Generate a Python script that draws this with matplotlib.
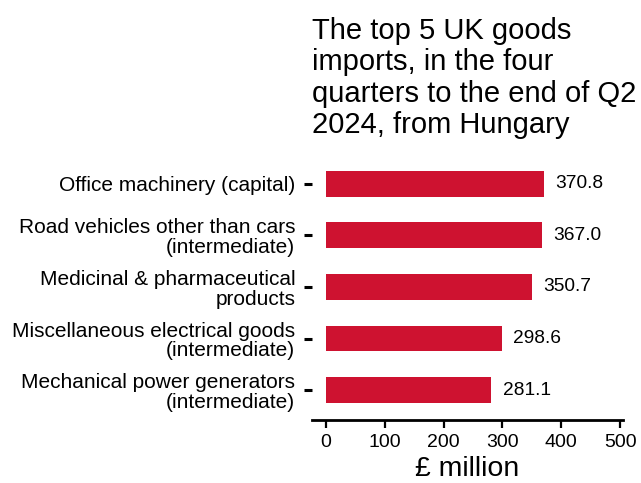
import matplotlib.pyplot as plt

categories = ['Office machinery (capital)',
              'Road vehicles other than cars\n(intermediate)',
              'Medicinal & pharmaceutical\nproducts',
              'Miscellaneous electrical goods\n(intermediate)',
              'Mechanical power generators\n(intermediate)']
values = [370.8, 367.0, 350.7, 298.6, 281.1]
xticks = [0, 100, 200, 300, 400, 500]

plt.rcParams['font.family'] = ['Liberation Sans', 'DejaVu Sans']

fig = plt.figure(figsize=(6.41, 4.83), dpi=100)
ax = fig.add_axes([312/641, 63/483, 311/641, 262/483])

pos = list(range(len(values)))
ax.barh(pos, values, height=0.5, color='#CE1230')
for p, v in zip(pos, values):
    ax.text(v + 19, p, f'{v:.1f}', va='center', ha='left', fontsize=13.8)

ax.set_ylim(4.58, -0.5)
ax.set_xlim(-24, 505)
ax.set_xticks(xticks)
ax.set_yticks(pos)
ax.set_yticklabels(categories, fontsize=15, linespacing=1.05)
ax.tick_params(axis='y', length=6, width=2.2, pad=6)
ax.tick_params(axis='x', length=6, width=1.6, labelsize=14, pad=4)
for s in ['top', 'right', 'left']:
    ax.spines[s].set_visible(False)
ax.spines['bottom'].set_linewidth(2)
ax.set_xlabel('£ million', fontsize=20.5, labelpad=4)

fig.text(312/641, 1 - 17/483, 'The top 5 UK goods\nimports, in the four\nquarters to the end of Q2\n2024, from Hungary',
         ha='left', va='top', fontsize=21, linespacing=1.155)

fig.savefig('out.png', dpi=100)
